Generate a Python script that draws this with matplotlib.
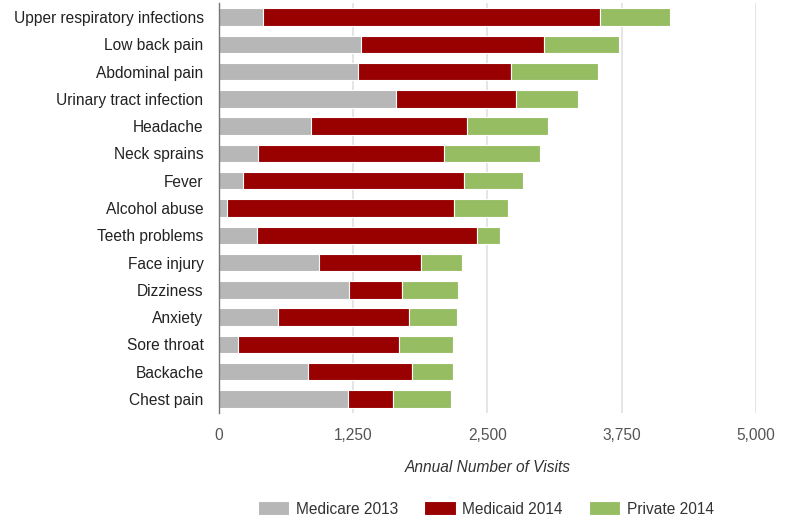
import matplotlib
matplotlib.use("Agg")
import matplotlib.pyplot as plt
import numpy as np

categories = ["Upper respiratory infections", "Low back pain", "Abdominal pain",
              "Urinary tract infection", "Headache", "Neck sprains", "Fever",
              "Alcohol abuse", "Teeth problems", "Face injury", "Dizziness",
              "Anxiety", "Sore throat", "Backache", "Chest pain"]
medicare_2013 = [410, 1328, 1297, 1648, 862, 361, 230, 75, 354, 930, 1213, 550, 181, 834, 1203]
medicaid_2014 = [3135, 1701, 1424, 1122, 1446, 1735, 2055, 2114, 2053, 949, 494, 1220, 1495, 966, 420]
private_2014 = [659, 699, 809, 573, 758, 895, 551, 504, 211, 382, 522, 450, 507, 383, 536]
series_names = ["Medicare 2013", "Medicaid 2014", "Private 2014"]
xticks = [0, 1250, 2500, 3750, 5000]

plt.rcParams['font.family'] = ['Liberation Sans', 'DejaVu Sans']

fig = plt.figure(figsize=(7.87, 5.21), dpi=100)
ax = fig.add_axes([0.278, 0.208, 0.6826, 0.7856])

colors = ["#b7b7b7", "#990000", "#97bd63"]
y = np.arange(len(categories))
left = np.zeros(len(categories))
handles = []
for vals, c, name in zip([medicare_2013, medicaid_2014, private_2014], colors, series_names):
    b = ax.barh(y, vals, left=left, height=0.64, color=c, edgecolor="white",
                linewidth=0.8, label=name, zorder=3)
    handles.append(b)
    left = left + np.array(vals)

fs = 11.2
ax.set_ylim(len(categories) - 0.5, -0.5)
ax.set_xlim(0, 5000)
ax.set_yticks(y)
ax.set_yticklabels(categories, fontsize=fs, color="#222222")
ax.set_xticks(xticks)
ax.set_xticklabels([f"{v:,}" for v in xticks], fontsize=fs, color="#555555")
ax.tick_params(axis="both", length=0)
ax.tick_params(axis="x", pad=11)
ax.tick_params(axis="y", pad=11)
ax.grid(axis="x", color="#e0e0e0", linewidth=1.2, zorder=0)
for s in ["top", "right", "bottom"]:
    ax.spines[s].set_visible(False)
ax.spines["left"].set_color("#777777")
ax.spines["left"].set_linewidth(1.0)
ax.spines["left"].set_zorder(4)

ax.set_xlabel("Annual Number of Visits", fontsize=fs, style="italic",
              color="#333333", labelpad=12)

fig.legend(handles=handles, labels=series_names, loc="center",
           bbox_to_anchor=(486 / 787, 1 - 509 / 521), ncol=3, frameon=False,
           fontsize=fs, handlelength=2.0, handleheight=1.0, columnspacing=1.68,
           handletextpad=0.43, labelcolor="#333333")

fig.savefig("out.png", dpi=100)
